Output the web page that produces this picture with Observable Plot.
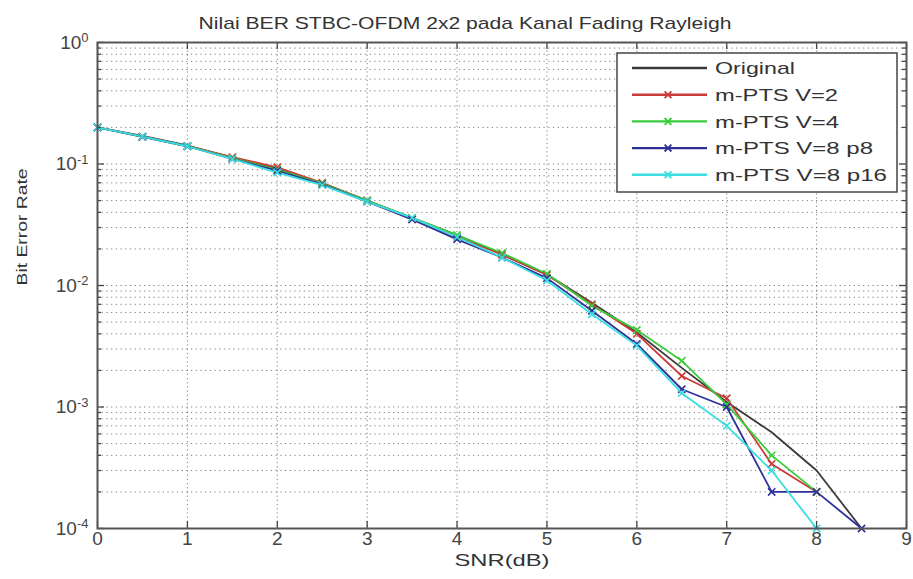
<!DOCTYPE html>
<html>
<head>
<meta charset="utf-8">
<script src="https://cdn.jsdelivr.net/npm/d3@7"></script>
<script src="https://cdn.jsdelivr.net/npm/@observablehq/plot@0.6"></script>
<style>
  html, body { margin: 0; padding: 0; background: #fff; }
  #chart { width: 913px; height: 579px; }
  svg { font-family: "Liberation Sans", Arial, sans-serif; }
</style>
</head>
<body>
<div id="chart"></div>
<script>
const titleText = "Nilai BER STBC-OFDM 2x2 pada Kanal Fading Rayleigh";
const xLabel = "SNR(dB)";
const yLabel = "Bit Error Rate";

const seriesNames = ["Original", "m-PTS V=2", "m-PTS V=4", "m-PTS V=8 p8", "m-PTS V=8 p16"];
const seriesColors = ["#3a3a3a", "#cc3a3a", "#3acc3a", "#30309a", "#3adede"];
const seriesMarkers = [false, true, true, true, true];

const snr = [0, 0.5, 1, 1.5, 2, 2.5, 3, 3.5, 4, 4.5, 5, 5.5, 6, 6.5, 7, 7.5, 8, 8.5];
const berOriginal = [0.2, 0.17, 0.142, 0.113, 0.091, 0.069, 0.05, 0.036, 0.026, 0.018, 0.0123, 0.0072, 0.0041, 0.0021, 0.0011, 0.00062, 0.0003, 0.0001];
const berV2 = [0.2, 0.168, 0.141, 0.114, 0.094, 0.07, 0.05, 0.035, 0.025, 0.018, 0.0122, 0.007, 0.004, 0.0018, 0.00118, 0.00034, 0.0002];
const berV4 = [0.2, 0.168, 0.14, 0.112, 0.09, 0.069, 0.05, 0.036, 0.026, 0.0185, 0.0125, 0.0068, 0.0043, 0.0024, 0.00105, 0.0004, 0.0002];
const berV8p8 = [0.2, 0.167, 0.14, 0.11, 0.088, 0.068, 0.049, 0.035, 0.024, 0.017, 0.0115, 0.0062, 0.0033, 0.0014, 0.001, 0.0002, 0.0002, 0.0001];
const berV8p16 = [0.2, 0.168, 0.14, 0.11, 0.085, 0.067, 0.049, 0.036, 0.025, 0.017, 0.011, 0.0058, 0.0032, 0.0013, 0.0007, 0.0003, 0.0001];

const xTicks = [0, 1, 2, 3, 4, 5, 6, 7, 8, 9];
const yMajorTicks = [1e-4, 1e-3, 1e-2, 1e-1, 1];
const yExponents = ["-4", "-3", "-2", "-1", "0"];

const seriesValues = [berOriginal, berV2, berV4, berV8p8, berV8p16];
const data = [];
seriesValues.forEach((vals, s) => {
  vals.forEach((v, i) => data.push({series: seriesNames[s], snr: snr[i], ber: v, marker: seriesMarkers[s]}));
});

const W = 913, H = 579;
const mL = 97, mR = 7, mT = 42, mB = 51;
const pw = W - mL - mR, ph = H - mT - mB;

const yAllTicks = d3.scaleLog().domain([1e-4, 1]).ticks();
const yMinorTicks = yAllTicks.filter(t => !yMajorTicks.some(m => Math.abs(Math.log10(t) - Math.log10(m)) < 1e-9));

const gridStyle = {stroke: "#666", strokeOpacity: 0.85, strokeDasharray: "1.2,3.5", strokeWidth: 1};

const chart = Plot.plot({
  width: W, height: H,
  marginLeft: mL, marginRight: mR, marginTop: mT, marginBottom: mB,
  style: {fontFamily: "Liberation Sans, Arial, sans-serif", background: "#fff", overflow: "visible"},
  x: {domain: [0, 9], label: null, axis: null},
  y: {type: "log", domain: [1e-4, 1], label: null, axis: null},
  color: {domain: seriesNames, range: seriesColors},
  marks: [
    Plot.gridY(yAllTicks, {...gridStyle}),
    Plot.gridX(xTicks.slice(1, -1), {...gridStyle, strokeDasharray: "1.2,3"}),
    Plot.line(data, {x: "snr", y: "ber", z: "series", stroke: "series", strokeWidth: 1.8}),
    Plot.dot(data.filter(d => d.marker), {x: "snr", y: "ber", stroke: "series", symbol: "times", r: 3.4, strokeWidth: 1.6}),
    Plot.tickY(yMajorTicks, {y: d => d, insetRight: pw - 7, stroke: "#444", strokeWidth: 1.3}),
    Plot.tickY(yMajorTicks, {y: d => d, insetLeft: pw - 7, stroke: "#444", strokeWidth: 1.3}),
    Plot.tickY(yMinorTicks, {y: d => d, insetRight: pw - 4, stroke: "#444", strokeWidth: 1.3}),
    Plot.tickY(yMinorTicks, {y: d => d, insetLeft: pw - 4, stroke: "#444", strokeWidth: 1.3}),
    Plot.tickX(xTicks, {x: d => d, insetTop: ph - 7, stroke: "#444", strokeWidth: 1.3}),
    Plot.tickX(xTicks, {x: d => d, insetBottom: ph - 7, stroke: "#444", strokeWidth: 1.3}),
    Plot.frame({stroke: "#555", strokeWidth: 2}),
    // tick labels
    Plot.text(xTicks, {x: d => d, text: d => String(d), frameAnchor: "bottom", dy: 16, fontSize: 19, fill: "#444"}),
    Plot.text(yMajorTicks, {y: d => d, text: (d, i) => "10^" + yExponents[i], frameAnchor: "left", dx: -9, textAnchor: "end", fontSize: 19, fill: "#444", className: "ylbl"}),
    // titles
    Plot.text([titleText], {frameAnchor: "top", dy: -26, dx: -37, fontSize: 17, fill: "#333", className: "ttl"}),
    Plot.text([xLabel], {frameAnchor: "bottom", dy: 37, fontSize: 17, fill: "#333", className: "xlab"}),
    Plot.text([yLabel], {frameAnchor: "left", dx: -75, rotate: -90, fontSize: 15, fill: "#333", className: "ylab"})
  ]
});

document.getElementById("chart").appendChild(chart);

const svg = d3.select(chart);

function stretch(sel, len) {
  sel.attr("textLength", len).attr("lengthAdjust", "spacingAndGlyphs");
}
stretch(svg.selectAll("g.ttl text"), 533);
stretch(svg.selectAll("g.xlab text"), 95);
stretch(svg.selectAll("g.ylab text"), 117);

// superscript exponents for y tick labels
svg.selectAll("g.ylbl text").each(function() {
  const t = d3.select(this);
  const parts = t.text().split("^");
  if (parts.length === 2) {
    t.text(null);
    t.append("tspan").text(parts[0]);
    t.append("tspan").attr("dy", "-0.5em").attr("font-size", 13).text(parts[1]);
  }
});

// legend (inside the axes, top right)
const legendLengths = [80, 123, 124, 158, 172];
const lg = svg.append("g").attr("font-size", 17).attr("fill", "#333").attr("text-anchor", "start");
lg.append("rect").attr("x", 617).attr("y", 53).attr("width", 280).attr("height", 139)
  .attr("fill", "#fff").attr("stroke", "#444").attr("stroke-width", 1.5);
seriesNames.forEach((name, i) => {
  const yy = 68 + i * 26.7;
  lg.append("line").attr("x1", 632).attr("x2", 707).attr("y1", yy).attr("y2", yy)
    .attr("stroke", seriesColors[i]).attr("stroke-width", 2.4);
  if (seriesMarkers[i]) {
    lg.append("path").attr("d", `M${668-3.4},${yy-3.4}L${668+3.4},${yy+3.4}M${668-3.4},${yy+3.4}L${668+3.4},${yy-3.4}`)
      .attr("stroke", seriesColors[i]).attr("stroke-width", 1.8);
  }
  lg.append("text").attr("x", 715).attr("y", yy).attr("dy", "0.36em")
    .attr("textLength", legendLengths[i]).attr("lengthAdjust", "spacingAndGlyphs").text(name);
});
</script>
</body>
</html>
